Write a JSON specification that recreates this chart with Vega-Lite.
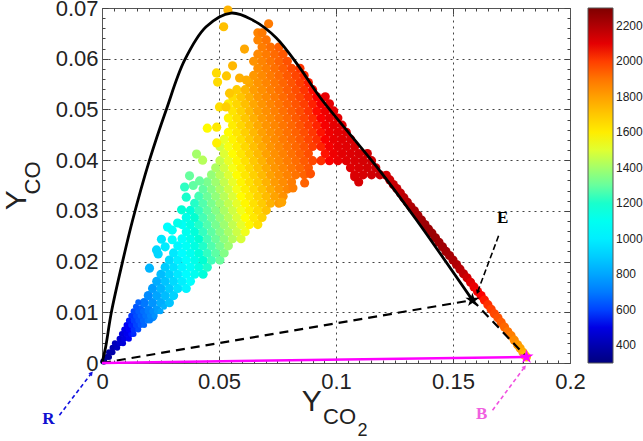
{"$schema":"https://vega.github.io/schema/vega-lite/v6.json","width":468,"height":355,"autosize":{"type":"none"},"padding":{"left":102,"top":8,"right":73,"bottom":78},"background":"white","resolve":{"axis":{"x":"independent","y":"independent"}},
"config":{"view":{"stroke":null},"axis":{"labelFont":"Liberation Sans","labelColor":"#222","tickColor":"#444","domainColor":"#555","title":null,"labelFlush":false,"labelOverlap":false}},
"layer":[
{"data":{"values":[
{"x":0.0144,"y":0.0091,"t":612},{"x":0.018,"y":0.0091,"t":672},{"x":0.0216,"y":0.0091,"t":733},
{"x":0.0162,"y":0.0105,"t":653},{"x":0.0198,"y":0.0105,"t":714},{"x":0.0234,"y":0.0105,"t":774},
{"x":0.018,"y":0.0119,"t":694},{"x":0.0216,"y":0.0119,"t":755},{"x":0.0252,"y":0.0119,"t":815},{"x":0.0288,"y":0.0119,"t":876},
{"x":0.0198,"y":0.0133,"t":736},{"x":0.0234,"y":0.0133,"t":796},{"x":0.027,"y":0.0133,"t":857},{"x":0.0306,"y":0.0133,"t":917},
{"x":0.0216,"y":0.0147,"t":777},{"x":0.0252,"y":0.0147,"t":837},{"x":0.0288,"y":0.0147,"t":898},{"x":0.0324,"y":0.0147,"t":958},{"x":0.036,"y":0.0147,"t":1019},
{"x":0.0234,"y":0.0161,"t":817},{"x":0.027,"y":0.0161,"t":878},{"x":0.0306,"y":0.0161,"t":938},{"x":0.0342,"y":0.0161,"t":999},{"x":0.0378,"y":0.0161,"t":1059},
{"x":0.0252,"y":0.0175,"t":858},{"x":0.0288,"y":0.0175,"t":919},{"x":0.0324,"y":0.0175,"t":979},{"x":0.036,"y":0.0175,"t":1040},{"x":0.0396,"y":0.0175,"t":1100},{"x":0.0432,"y":0.0175,"t":1161},
{"x":0.027,"y":0.0189,"t":900},{"x":0.0306,"y":0.0189,"t":960},{"x":0.0342,"y":0.0189,"t":1021},{"x":0.0378,"y":0.0189,"t":1081},{"x":0.0414,"y":0.0189,"t":1142},{"x":0.045,"y":0.0189,"t":1202},
{"x":0.0288,"y":0.0203,"t":941},{"x":0.0324,"y":0.0203,"t":1001},{"x":0.036,"y":0.0203,"t":1062},{"x":0.0396,"y":0.0203,"t":1122},{"x":0.0432,"y":0.0203,"t":1183},{"x":0.0468,"y":0.0203,"t":1243},{"x":0.0504,"y":0.0203,"t":1304},
{"x":0.0306,"y":0.0217,"t":982},{"x":0.0342,"y":0.0217,"t":1043},{"x":0.0378,"y":0.0217,"t":1103},{"x":0.0414,"y":0.0217,"t":1164},{"x":0.045,"y":0.0217,"t":1224},{"x":0.0486,"y":0.0217,"t":1284},{"x":0.0522,"y":0.0217,"t":1345},
{"x":0.0324,"y":0.0231,"t":1023},{"x":0.036,"y":0.0231,"t":1084},{"x":0.0396,"y":0.0231,"t":1144},{"x":0.0432,"y":0.0231,"t":1205},{"x":0.0468,"y":0.0231,"t":1265},{"x":0.0504,"y":0.0231,"t":1326},{"x":0.054,"y":0.0231,"t":1386},
{"x":0.0342,"y":0.0245,"t":1064},{"x":0.0378,"y":0.0245,"t":1124},{"x":0.0414,"y":0.0245,"t":1185},{"x":0.045,"y":0.0245,"t":1245},{"x":0.0486,"y":0.0245,"t":1305},{"x":0.0522,"y":0.0245,"t":1366},{"x":0.0558,"y":0.0245,"t":1426},{"x":0.0594,"y":0.0245,"t":1487},
{"x":0.036,"y":0.0259,"t":1105},{"x":0.0396,"y":0.0259,"t":1165},{"x":0.0432,"y":0.0259,"t":1226},{"x":0.0468,"y":0.0259,"t":1286},{"x":0.0504,"y":0.0259,"t":1347},{"x":0.054,"y":0.0259,"t":1407},{"x":0.0576,"y":0.0259,"t":1468},{"x":0.0612,"y":0.0259,"t":1528},
{"x":0.0342,"y":0.0273,"t":1086},{"x":0.0378,"y":0.0273,"t":1146},{"x":0.0414,"y":0.0273,"t":1207},{"x":0.045,"y":0.0273,"t":1267},{"x":0.0486,"y":0.0273,"t":1327},{"x":0.0522,"y":0.0273,"t":1388},{"x":0.0558,"y":0.0273,"t":1448},{"x":0.0594,"y":0.0273,"t":1509},{"x":0.063,"y":0.0273,"t":1569},{"x":0.0666,"y":0.0273,"t":1630},
{"x":0.036,"y":0.0287,"t":1127},{"x":0.0396,"y":0.0287,"t":1187},{"x":0.0432,"y":0.0287,"t":1248},{"x":0.0468,"y":0.0287,"t":1308},{"x":0.0504,"y":0.0287,"t":1369},{"x":0.054,"y":0.0287,"t":1429},{"x":0.0576,"y":0.0287,"t":1490},{"x":0.0612,"y":0.0287,"t":1550},{"x":0.0648,"y":0.0287,"t":1611},{"x":0.0684,"y":0.0287,"t":1671},
{"x":0.0378,"y":0.0301,"t":1168},{"x":0.0414,"y":0.0301,"t":1229},{"x":0.045,"y":0.0301,"t":1289},{"x":0.0486,"y":0.0301,"t":1349},{"x":0.0522,"y":0.0301,"t":1410},{"x":0.0558,"y":0.0301,"t":1470},{"x":0.0594,"y":0.0301,"t":1531},{"x":0.063,"y":0.0301,"t":1591},{"x":0.0666,"y":0.0301,"t":1652},{"x":0.0702,"y":0.0301,"t":1712},
{"x":0.0396,"y":0.0315,"t":1208},{"x":0.0432,"y":0.0315,"t":1269},{"x":0.0468,"y":0.0315,"t":1329},{"x":0.0504,"y":0.0315,"t":1390},{"x":0.054,"y":0.0315,"t":1450},{"x":0.0576,"y":0.0315,"t":1511},{"x":0.0612,"y":0.0315,"t":1571},{"x":0.0648,"y":0.0315,"t":1632},{"x":0.0684,"y":0.0315,"t":1692},{"x":0.072,"y":0.0315,"t":1753},{"x":0.0756,"y":0.0315,"t":1813},
{"x":0.0414,"y":0.0329,"t":1250},{"x":0.045,"y":0.0329,"t":1310},{"x":0.0486,"y":0.0329,"t":1370},{"x":0.0522,"y":0.0329,"t":1431},{"x":0.0558,"y":0.0329,"t":1491},{"x":0.0594,"y":0.0329,"t":1552},{"x":0.063,"y":0.0329,"t":1612},{"x":0.0666,"y":0.0329,"t":1673},{"x":0.0702,"y":0.0329,"t":1733},{"x":0.0738,"y":0.0329,"t":1794},{"x":0.0774,"y":0.0329,"t":1836},
{"x":0.0432,"y":0.0343,"t":1291},{"x":0.0468,"y":0.0343,"t":1351},{"x":0.0504,"y":0.0343,"t":1412},{"x":0.054,"y":0.0343,"t":1472},{"x":0.0576,"y":0.0343,"t":1533},{"x":0.0612,"y":0.0343,"t":1593},{"x":0.0648,"y":0.0343,"t":1654},{"x":0.0684,"y":0.0343,"t":1714},{"x":0.072,"y":0.0343,"t":1775},{"x":0.0756,"y":0.0343,"t":1825},{"x":0.0792,"y":0.0343,"t":1860},
{"x":0.045,"y":0.0357,"t":1332},{"x":0.0486,"y":0.0357,"t":1392},{"x":0.0522,"y":0.0357,"t":1453},{"x":0.0558,"y":0.0357,"t":1513},{"x":0.0594,"y":0.0357,"t":1574},{"x":0.063,"y":0.0357,"t":1634},{"x":0.0666,"y":0.0357,"t":1695},{"x":0.0702,"y":0.0357,"t":1755},{"x":0.0738,"y":0.0357,"t":1813},{"x":0.0774,"y":0.0357,"t":1848},{"x":0.081,"y":0.0357,"t":1883},
{"x":0.0468,"y":0.0371,"t":1373},{"x":0.0504,"y":0.0371,"t":1434},{"x":0.054,"y":0.0371,"t":1494},{"x":0.0576,"y":0.0371,"t":1555},{"x":0.0612,"y":0.0371,"t":1615},{"x":0.0648,"y":0.0371,"t":1676},{"x":0.0684,"y":0.0371,"t":1736},{"x":0.072,"y":0.0371,"t":1797},{"x":0.0756,"y":0.0371,"t":1838},{"x":0.0792,"y":0.0371,"t":1872},{"x":0.0828,"y":0.0371,"t":1905},{"x":0.0864,"y":0.0371,"t":1940},{"x":0.108,"y":0.0371,"t":2112},{"x":0.1116,"y":0.0371,"t":2124},{"x":0.1152,"y":0.0371,"t":2137},{"x":0.1188,"y":0.0371,"t":2150},
{"x":0.0486,"y":0.0385,"t":1415},{"x":0.0522,"y":0.0385,"t":1475},{"x":0.0558,"y":0.0385,"t":1535},{"x":0.0594,"y":0.0385,"t":1596},{"x":0.063,"y":0.0385,"t":1656},{"x":0.0666,"y":0.0385,"t":1717},{"x":0.0702,"y":0.0385,"t":1777},{"x":0.0738,"y":0.0385,"t":1826},{"x":0.0774,"y":0.0385,"t":1860},{"x":0.081,"y":0.0385,"t":1895},{"x":0.0846,"y":0.0385,"t":1928},{"x":0.0882,"y":0.0385,"t":1962},{"x":0.1062,"y":0.0385,"t":2108},{"x":0.1098,"y":0.0385,"t":2120},{"x":0.1134,"y":0.0385,"t":2133},{"x":0.117,"y":0.0385,"t":2146},
{"x":0.0504,"y":0.0399,"t":1455},{"x":0.054,"y":0.0399,"t":1515},{"x":0.0576,"y":0.0399,"t":1576},{"x":0.0612,"y":0.0399,"t":1636},{"x":0.0648,"y":0.0399,"t":1697},{"x":0.0684,"y":0.0399,"t":1757},{"x":0.072,"y":0.0399,"t":1816},{"x":0.0756,"y":0.0399,"t":1850},{"x":0.0792,"y":0.0399,"t":1884},{"x":0.0828,"y":0.0399,"t":1918},{"x":0.0864,"y":0.0399,"t":1952},{"x":0.09,"y":0.0399,"t":1986},{"x":0.0936,"y":0.0399,"t":2020},{"x":0.0972,"y":0.0399,"t":2055},{"x":0.1008,"y":0.0399,"t":2087},{"x":0.1044,"y":0.0399,"t":2104},{"x":0.108,"y":0.0399,"t":2116},{"x":0.1116,"y":0.0399,"t":2129},{"x":0.1152,"y":0.0399,"t":2142},
{"x":0.0522,"y":0.0413,"t":1496},{"x":0.0558,"y":0.0413,"t":1556},{"x":0.0594,"y":0.0413,"t":1617},{"x":0.063,"y":0.0413,"t":1677},{"x":0.0666,"y":0.0413,"t":1738},{"x":0.0702,"y":0.0413,"t":1798},{"x":0.0738,"y":0.0413,"t":1839},{"x":0.0774,"y":0.0413,"t":1874},{"x":0.081,"y":0.0413,"t":1908},{"x":0.0846,"y":0.0413,"t":1941},{"x":0.0882,"y":0.0413,"t":1976},{"x":0.0954,"y":0.0413,"t":2043},{"x":0.099,"y":0.0413,"t":2078},{"x":0.1026,"y":0.0413,"t":2100},{"x":0.1062,"y":0.0413,"t":2112},{"x":0.1098,"y":0.0413,"t":2125},{"x":0.1134,"y":0.0413,"t":2138},
{"x":0.0504,"y":0.0427,"t":1477},{"x":0.054,"y":0.0427,"t":1537},{"x":0.0576,"y":0.0427,"t":1598},{"x":0.0612,"y":0.0427,"t":1658},{"x":0.0648,"y":0.0427,"t":1719},{"x":0.0684,"y":0.0427,"t":1779},{"x":0.072,"y":0.0427,"t":1827},{"x":0.0756,"y":0.0427,"t":1862},{"x":0.0792,"y":0.0427,"t":1895},{"x":0.0828,"y":0.0427,"t":1929},{"x":0.0864,"y":0.0427,"t":1964},{"x":0.09,"y":0.0427,"t":2000},{"x":0.0936,"y":0.0427,"t":2032},{"x":0.0972,"y":0.0427,"t":2067},{"x":0.1008,"y":0.0427,"t":2096},{"x":0.1044,"y":0.0427,"t":2108},{"x":0.108,"y":0.0427,"t":2120},
{"x":0.0522,"y":0.0441,"t":1518},{"x":0.0558,"y":0.0441,"t":1578},{"x":0.0594,"y":0.0441,"t":1639},{"x":0.063,"y":0.0441,"t":1699},{"x":0.0666,"y":0.0441,"t":1760},{"x":0.0702,"y":0.0441,"t":1816},{"x":0.0738,"y":0.0441,"t":1851},{"x":0.0774,"y":0.0441,"t":1886},{"x":0.081,"y":0.0441,"t":1920},{"x":0.0846,"y":0.0441,"t":1953},{"x":0.0882,"y":0.0441,"t":1988},{"x":0.0918,"y":0.0441,"t":2020},{"x":0.0954,"y":0.0441,"t":2055},{"x":0.099,"y":0.0441,"t":2088},{"x":0.1026,"y":0.0441,"t":2104},{"x":0.1062,"y":0.0441,"t":2117},
{"x":0.054,"y":0.0455,"t":1559},{"x":0.0576,"y":0.0455,"t":1620},{"x":0.0612,"y":0.0455,"t":1680},{"x":0.0648,"y":0.0455,"t":1741},{"x":0.0684,"y":0.0455,"t":1801},{"x":0.072,"y":0.0455,"t":1839},{"x":0.0756,"y":0.0455,"t":1874},{"x":0.0792,"y":0.0455,"t":1908},{"x":0.0828,"y":0.0455,"t":1941},{"x":0.0864,"y":0.0455,"t":1976},{"x":0.09,"y":0.0455,"t":2010},{"x":0.0936,"y":0.0455,"t":2043},{"x":0.0972,"y":0.0455,"t":2078},{"x":0.1008,"y":0.0455,"t":2100},{"x":0.1044,"y":0.0455,"t":2112},
{"x":0.0558,"y":0.0469,"t":1600},{"x":0.0594,"y":0.0469,"t":1660},{"x":0.063,"y":0.0469,"t":1720},{"x":0.0666,"y":0.0469,"t":1781},{"x":0.0702,"y":0.0469,"t":1829},{"x":0.0738,"y":0.0469,"t":1863},{"x":0.0774,"y":0.0469,"t":1898},{"x":0.081,"y":0.0469,"t":1930},{"x":0.0846,"y":0.0469,"t":1965},{"x":0.0882,"y":0.0469,"t":2000},{"x":0.0918,"y":0.0469,"t":2032},{"x":0.0954,"y":0.0469,"t":2067},{"x":0.099,"y":0.0469,"t":2096},{"x":0.1026,"y":0.0469,"t":2108},
{"x":0.054,"y":0.0483,"t":1580},{"x":0.0576,"y":0.0483,"t":1641},{"x":0.0612,"y":0.0483,"t":1701},{"x":0.0648,"y":0.0483,"t":1762},{"x":0.0684,"y":0.0483,"t":1818},{"x":0.072,"y":0.0483,"t":1851},{"x":0.0756,"y":0.0483,"t":1886},{"x":0.0792,"y":0.0483,"t":1920},{"x":0.0828,"y":0.0483,"t":1954},{"x":0.0864,"y":0.0483,"t":1988},{"x":0.09,"y":0.0483,"t":2022},{"x":0.0936,"y":0.0483,"t":2056},{"x":0.0972,"y":0.0483,"t":2090},{"x":0.1008,"y":0.0483,"t":2104},
{"x":0.0558,"y":0.0497,"t":1621},{"x":0.0594,"y":0.0497,"t":1682},{"x":0.063,"y":0.0497,"t":1742},{"x":0.0666,"y":0.0497,"t":1803},{"x":0.0702,"y":0.0497,"t":1842},{"x":0.0738,"y":0.0497,"t":1875},{"x":0.0774,"y":0.0497,"t":1910},{"x":0.081,"y":0.0497,"t":1944},{"x":0.0846,"y":0.0497,"t":1977},{"x":0.0882,"y":0.0497,"t":2012},{"x":0.0918,"y":0.0497,"t":2046},{"x":0.0954,"y":0.0497,"t":2079},{"x":0.099,"y":0.0497,"t":2102},
{"x":0.054,"y":0.0511,"t":1602},{"x":0.0576,"y":0.0511,"t":1663},{"x":0.0612,"y":0.0511,"t":1723},{"x":0.0648,"y":0.0511,"t":1784},{"x":0.0684,"y":0.0511,"t":1830},{"x":0.072,"y":0.0511,"t":1864},{"x":0.0756,"y":0.0511,"t":1898},{"x":0.0792,"y":0.0511,"t":1932},{"x":0.0828,"y":0.0511,"t":1966},{"x":0.0864,"y":0.0511,"t":2000},{"x":0.09,"y":0.0511,"t":2034},{"x":0.0936,"y":0.0511,"t":2068},{"x":0.0972,"y":0.0511,"t":2096},
{"x":0.0558,"y":0.0525,"t":1643},{"x":0.0594,"y":0.0525,"t":1704},{"x":0.063,"y":0.0525,"t":1764},{"x":0.0666,"y":0.0525,"t":1820},{"x":0.0702,"y":0.0525,"t":1854},{"x":0.0738,"y":0.0525,"t":1887},{"x":0.0774,"y":0.0525,"t":1922},{"x":0.081,"y":0.0525,"t":1956},{"x":0.0846,"y":0.0525,"t":1989},{"x":0.0882,"y":0.0525,"t":2024},{"x":0.0918,"y":0.0525,"t":2058},{"x":0.0954,"y":0.0525,"t":2091},
{"x":0.0576,"y":0.0539,"t":1685},{"x":0.0612,"y":0.0539,"t":1745},{"x":0.0648,"y":0.0539,"t":1806},{"x":0.0684,"y":0.0539,"t":1842},{"x":0.072,"y":0.0539,"t":1876},{"x":0.0756,"y":0.0539,"t":1910},{"x":0.0792,"y":0.0539,"t":1944},{"x":0.0828,"y":0.0539,"t":1978},{"x":0.0864,"y":0.0539,"t":2013},{"x":0.09,"y":0.0539,"t":2046},
{"x":0.063,"y":0.0553,"t":1785},{"x":0.0666,"y":0.0553,"t":1832},{"x":0.0702,"y":0.0553,"t":1864},{"x":0.0738,"y":0.0553,"t":1899},{"x":0.0774,"y":0.0553,"t":1934},{"x":0.081,"y":0.0553,"t":1966},{"x":0.0846,"y":0.0553,"t":2001},{"x":0.0882,"y":0.0553,"t":2036},
{"x":0.0648,"y":0.0567,"t":1821},{"x":0.0684,"y":0.0567,"t":1854},{"x":0.072,"y":0.0567,"t":1888},{"x":0.0756,"y":0.0567,"t":1922},{"x":0.0792,"y":0.0567,"t":1956},{"x":0.0828,"y":0.0567,"t":1990},{"x":0.0864,"y":0.0567,"t":2025},
{"x":0.0666,"y":0.0581,"t":1844},{"x":0.0702,"y":0.0581,"t":1876},{"x":0.0738,"y":0.0581,"t":1911},{"x":0.0774,"y":0.0581,"t":1946},{"x":0.081,"y":0.0581,"t":1980},{"x":0.0846,"y":0.0581,"t":2013},
{"x":0.0648,"y":0.0595,"t":1833},{"x":0.0684,"y":0.0595,"t":1868},{"x":0.072,"y":0.0595,"t":1900},{"x":0.0756,"y":0.0595,"t":1935},{"x":0.0792,"y":0.0595,"t":1970},
{"x":0.0666,"y":0.0609,"t":1856},{"x":0.0702,"y":0.0609,"t":1888},{"x":0.0738,"y":0.0609,"t":1923},{"x":0.0774,"y":0.0609,"t":1958},
{"x":0.0684,"y":0.0623,"t":1880},{"x":0.072,"y":0.0623,"t":1912},{"x":0.0756,"y":0.0623,"t":1947},
{"x":0.0666,"y":0.0637,"t":1868},{"x":0.0702,"y":0.0637,"t":1902},
{"x":0.0666,"y":0.0651,"t":1869},{"x":0.0684,"y":0.0651,"t":1890},
{"x":0.0538,"y":0.0696,"t":1750},{"x":0.052,"y":0.0663,"t":1720},{"x":0.0712,"y":0.0669,"t":1890},{"x":0.0609,"y":0.0619,"t":1780},{"x":0.0558,"y":0.0586,"t":1740},{"x":0.0489,"y":0.0572,"t":1650},{"x":0.0494,"y":0.0554,"t":1650},{"x":0.0532,"y":0.0566,"t":1700},{"x":0.0588,"y":0.0562,"t":1760},{"x":0.0617,"y":0.0558,"t":1770},{"x":0.0545,"y":0.0532,"t":1700},{"x":0.0502,"y":0.0505,"t":1640},{"x":0.053,"y":0.0505,"t":1680},{"x":0.045,"y":0.0463,"t":1560},{"x":0.049,"y":0.0465,"t":1610},{"x":0.049,"y":0.0434,"t":1590},{"x":0.0404,"y":0.0412,"t":1400},{"x":0.043,"y":0.04,"t":1430},{"x":0.0374,"y":0.0369,"t":1300},{"x":0.0353,"y":0.0347,"t":1220},{"x":0.039,"y":0.035,"t":1290},{"x":0.0417,"y":0.0359,"t":1300},{"x":0.036,"y":0.0327,"t":1200},{"x":0.034,"y":0.0302,"t":1180},
{"x":0.108,"y":0.0367,"t":2120},{"x":0.1097,"y":0.0357,"t":2125},{"x":0.0768,"y":0.0317,"t":1790},{"x":0.0816,"y":0.0345,"t":1880},{"x":0.0866,"y":0.0355,"t":1940},{"x":0.0891,"y":0.0373,"t":1970},
{"x":0.028,"y":0.0268,"t":1050},{"x":0.03,"y":0.0262,"t":1080},{"x":0.0254,"y":0.0244,"t":980},{"x":0.03,"y":0.0243,"t":1060},{"x":0.0233,"y":0.0223,"t":930},{"x":0.024,"y":0.0215,"t":930},{"x":0.027,"y":0.0229,"t":990},{"x":0.0203,"y":0.0187,"t":840},{"x":0.0323,"y":0.0276,"t":1120},
{"x":0.1215,"y":0.037,"t":2130},{"x":0.123,"y":0.0361,"t":2140},{"x":0.1245,"y":0.0352,"t":2150},{"x":0.126,"y":0.0344,"t":2160},{"x":0.1275,"y":0.0335,"t":2170},{"x":0.129,"y":0.0326,"t":2180},{"x":0.1305,"y":0.0317,"t":2190},{"x":0.132,"y":0.0308,"t":2200},{"x":0.1335,"y":0.03,"t":2210},{"x":0.135,"y":0.0291,"t":2220},{"x":0.1365,"y":0.0282,"t":2230},{"x":0.138,"y":0.0273,"t":2235},{"x":0.1395,"y":0.0264,"t":2240},{"x":0.141,"y":0.0256,"t":2240},{"x":0.1425,"y":0.0247,"t":2240},{"x":0.144,"y":0.0238,"t":2235},{"x":0.1455,"y":0.0229,"t":2230},{"x":0.147,"y":0.022,"t":2225},{"x":0.1485,"y":0.0212,"t":2220},{"x":0.15,"y":0.0203,"t":2210},{"x":0.1515,"y":0.0194,"t":2200},{"x":0.153,"y":0.0185,"t":2185},{"x":0.1545,"y":0.0176,"t":2170},{"x":0.156,"y":0.0168,"t":2140},{"x":0.1575,"y":0.0159,"t":2110},{"x":0.159,"y":0.015,"t":2090},{"x":0.1605,"y":0.0141,"t":2070},{"x":0.162,"y":0.0133,"t":2055},{"x":0.1634,"y":0.0124,"t":2040},{"x":0.1649,"y":0.0115,"t":2020},{"x":0.1663,"y":0.0106,"t":2000},{"x":0.1677,"y":0.0097,"t":1985},{"x":0.1692,"y":0.0089,"t":1970},{"x":0.1706,"y":0.008,"t":1950},{"x":0.172,"y":0.0071,"t":1930},{"x":0.1734,"y":0.0062,"t":1905},{"x":0.1748,"y":0.0054,"t":1880},{"x":0.1762,"y":0.0045,"t":1850},{"x":0.1776,"y":0.0036,"t":1820},{"x":0.1787,"y":0.0029,"t":1795},{"x":0.1799,"y":0.0021,"t":1770},{"x":0.1806,"y":0.0016,"t":1735},{"x":0.1814,"y":0.0012,"t":1700}
]},"mark":{"type":"circle","size":84,"opacity":1},"encoding":{
"x":{"field":"x","type":"quantitative","scale":{"domain":[0,0.2],"nice":false},"axis":{"orient":"bottom","values":[0,0.05,0.1,0.15,0.2],"format":".2~f","labelFontSize":22,"labelPadding":14,"tickSize":-6,"grid":true,"gridColor":"#444","gridDash":[2,4],"gridWidth":1,"domain":true}},
"y":{"field":"y","type":"quantitative","scale":{"domain":[0,0.07],"nice":false},"axis":{"orient":"left","values":[0,0.01,0.02,0.03,0.04,0.05,0.06,0.07],"format":".2~f","labelFontSize":22,"labelPadding":10,"tickSize":-6,"grid":true,"gridColor":"#444","gridDash":[2,4],"gridWidth":1,"domain":true}},
"color":{"field":"t","type":"quantitative","scale":{"domain":[300,550,1050,1550,2050,2300],"range":["#00007f","#0000ff","#00ffff","#ffff00","#ff0000","#7f0000"]},"legend":{"orient":"none","legendX":486,"legendY":0,"title":null,"direction":"vertical","gradientLength":355,"gradientThickness":25,"values":[400,600,800,1000,1200,1400,1600,1800,2000,2200],"format":"d","labelFont":"Liberation Sans","labelFontSize":12,"labelColor":"#222","labelOffset":3,"gradientStrokeColor":"#555","gradientStrokeWidth":1}}}},
{"data":{"values":[{"x":0.0005,"y":0.0003,"t":310},{"x":0.001,"y":0.0003,"t":320},{"x":0.002,"y":0.0012,"t":343},{"x":0.003,"y":0.0012,"t":360},{"x":0.003,"y":0.0021,"t":366},{"x":0.0045,"y":0.0021,"t":392},{"x":0.0045,"y":0.003,"t":399},{"x":0.0065,"y":0.003,"t":432},{"x":0.0055,"y":0.0039,"t":422},{"x":0.0075,"y":0.0039,"t":456},{"x":0.009,"y":0.0039,"t":481},{"x":0.0075,"y":0.0048,"t":463},{"x":0.0095,"y":0.0048,"t":497},{"x":0.0115,"y":0.0048,"t":530},{"x":0.0085,"y":0.0057,"t":487},{"x":0.0105,"y":0.0057,"t":520},{"x":0.0125,"y":0.0057,"t":554},{"x":0.0135,"y":0.0057,"t":571},{"x":0.0095,"y":0.0066,"t":511},{"x":0.0115,"y":0.0066,"t":544},{"x":0.0135,"y":0.0066,"t":578},{"x":0.0155,"y":0.0066,"t":611},{"x":0.0105,"y":0.0075,"t":534},{"x":0.0125,"y":0.0075,"t":568},{"x":0.0145,"y":0.0075,"t":602},{"x":0.0165,"y":0.0075,"t":635},{"x":0.018,"y":0.0075,"t":660},{"x":0.0115,"y":0.0084,"t":558},{"x":0.0135,"y":0.0084,"t":592},{"x":0.0155,"y":0.0084,"t":625},{"x":0.0175,"y":0.0084,"t":659},{"x":0.0195,"y":0.0084,"t":693},{"x":0.0205,"y":0.0084,"t":709},{"x":0.0125,"y":0.0093,"t":582},{"x":0.0145,"y":0.0093,"t":616},{"x":0.0165,"y":0.0093,"t":649},{"x":0.0185,"y":0.0093,"t":683},{"x":0.0205,"y":0.0093,"t":716},{"x":0.0225,"y":0.0093,"t":750},{"x":0.0135,"y":0.0102,"t":606},{"x":0.0155,"y":0.0102,"t":639},{"x":0.0175,"y":0.0102,"t":673},{"x":0.0195,"y":0.0102,"t":707},{"x":0.0215,"y":0.0102,"t":740},{"x":0.0235,"y":0.0102,"t":774},{"x":0.025,"y":0.0102,"t":799},{"x":0.0145,"y":0.0111,"t":630},{"x":0.0265,"y":0.0111,"t":831},{"x":0.0155,"y":0.012,"t":653},{"x":0.0285,"y":0.012,"t":872}]},
"mark":{"type":"circle","size":36,"opacity":1},"encoding":{
"x":{"field":"x","type":"quantitative","scale":{"domain":[0,0.2],"nice":false},"axis":{"orient":"bottom","values":[0.005,0.01,0.015,0.02,0.025,0.03,0.035,0.04,0.045,0.055,0.06,0.065,0.07,0.075,0.08,0.085,0.09,0.095,0.105,0.11,0.115,0.12,0.125,0.13,0.135,0.14,0.145,0.155,0.16,0.165,0.17,0.175,0.18,0.185,0.19,0.195],"labels":false,"tickSize":-3,"grid":false,"domain":false}},
"y":{"field":"y","type":"quantitative","scale":{"domain":[0,0.07],"nice":false},"axis":{"orient":"left","values":[0.002,0.004,0.006,0.008,0.012,0.014,0.016,0.018,0.022,0.024,0.026,0.028,0.032,0.034,0.036,0.038,0.042,0.044,0.046,0.048,0.052,0.054,0.056,0.058,0.062,0.064,0.066,0.068],"labels":false,"tickSize":-3,"grid":false,"domain":false}},
"color":{"field":"t","type":"quantitative","scale":{"domain":[300,550,1050,1550,2050,2300],"range":["#00007f","#0000ff","#00ffff","#ffff00","#ff0000","#7f0000"]},"legend":null}}},
{"data":{"values":[{"x":0,"y":0},{"x":0.0015,"y":0.003},{"x":0.004,"y":0.01},{"x":0.0088,"y":0.02},{"x":0.0131,"y":0.0282},{"x":0.0203,"y":0.04},{"x":0.0275,"y":0.05},{"x":0.0353,"y":0.0597},{"x":0.0445,"y":0.0663},{"x":0.0552,"y":0.069},{"x":0.0645,"y":0.0676},{"x":0.0745,"y":0.0641},{"x":0.0844,"y":0.0583},{"x":0.093,"y":0.0525},{"x":0.1186,"y":0.038},{"x":0.1344,"y":0.0282},{"x":0.1583,"y":0.0124}]},
"mark":{"type":"line","color":"black","strokeWidth":2.8,"interpolate":"catmull-rom"},"encoding":{
"x":{"field":"x","type":"quantitative","scale":{"domain":[0,0.2],"nice":false},"axis":{"orient":"top","values":[0,0.05,0.1,0.15,0.2],"labels":false,"tickSize":-6,"grid":false,"domain":true}},
"y":{"field":"y","type":"quantitative","scale":{"domain":[0,0.07],"nice":false},"axis":{"orient":"right","values":[0,0.01,0.02,0.03,0.04,0.05,0.06,0.07],"labels":false,"tickSize":-6,"grid":false,"domain":true}}}},
{"data":{"values":[{"x":0,"y":0},{"x":0.1583,"y":0.0124},{"x":0.1814,"y":0.0012}]},
"mark":{"type":"line","color":"black","strokeWidth":2.2,"strokeDash":[9,6]},"encoding":{
"x":{"field":"x","type":"quantitative","scale":{"domain":[0,0.2],"nice":false},"axis":{"orient":"top","values":[0.005,0.01,0.015,0.02,0.025,0.03,0.035,0.04,0.045,0.055,0.06,0.065,0.07,0.075,0.08,0.085,0.09,0.095,0.105,0.11,0.115,0.12,0.125,0.13,0.135,0.14,0.145,0.155,0.16,0.165,0.17,0.175,0.18,0.185,0.19,0.195],"labels":false,"tickSize":-3,"grid":false,"domain":false}},
"y":{"field":"y","type":"quantitative","scale":{"domain":[0,0.07],"nice":false},"axis":{"orient":"right","values":[0.002,0.004,0.006,0.008,0.012,0.014,0.016,0.018,0.022,0.024,0.026,0.028,0.032,0.034,0.036,0.038,0.042,0.044,0.046,0.048,0.052,0.054,0.056,0.058,0.062,0.064,0.066,0.068],"labels":false,"tickSize":-3,"grid":false,"domain":false}}}},
{"data":{"values":[{"x":0,"y":0},{"x":0.1814,"y":0.0012}]},"mark":{"type":"line","color":"#ff00ff","strokeWidth":2.5},"encoding":{"x":{"field":"x","type":"quantitative","scale":{"domain":[0,0.2],"nice":false},"axis":null},"y":{"field":"y","type":"quantitative","scale":{"domain":[0,0.07],"nice":false},"axis":null}}},
{"data":{"values":[{"x":0.1583,"y":0.0124}]},"mark":{"type":"point","shape":"M0,-1 L0.225,-0.309 L0.951,-0.309 L0.363,0.118 L0.588,0.809 L0,0.382 L-0.588,0.809 L-0.363,0.118 L-0.951,-0.309 L-0.225,-0.309 Z","filled":true,"opacity":1,"color":"black","size":220},"encoding":{"x":{"field":"x","type":"quantitative","scale":{"domain":[0,0.2],"nice":false},"axis":null},"y":{"field":"y","type":"quantitative","scale":{"domain":[0,0.07],"nice":false},"axis":null}}},
{"data":{"values":[{"x":0.1814,"y":0.0012}]},"mark":{"type":"point","shape":"M0,-1 L0.225,-0.309 L0.951,-0.309 L0.363,0.118 L0.588,0.809 L0,0.382 L-0.588,0.809 L-0.363,0.118 L-0.951,-0.309 L-0.225,-0.309 Z","filled":true,"opacity":1,"color":"#ff00ff","size":220},"encoding":{"x":{"field":"x","type":"quantitative","scale":{"domain":[0,0.2],"nice":false},"axis":null},"y":{"field":"y","type":"quantitative","scale":{"domain":[0,0.07],"nice":false},"axis":null}}},
{"data":{"values":[{"x":-0.0182,"y":-0.0103},{"x":-0.0045,"y":-0.002}]},"mark":{"type":"line","color":"#1010e0","strokeWidth":1.6,"strokeDash":[4,3],"clip":false},"encoding":{"x":{"field":"x","type":"quantitative","scale":{"domain":[0,0.2],"nice":false},"axis":null},"y":{"field":"y","type":"quantitative","scale":{"domain":[0,0.07],"nice":false},"axis":null}}},
{"data":{"values":[{"x":0.1669,"y":-0.0093},{"x":0.1806,"y":-0.0008}]},"mark":{"type":"line","color":"#f050e0","strokeWidth":1.6,"strokeDash":[4,3],"clip":false},"encoding":{"x":{"field":"x","type":"quantitative","scale":{"domain":[0,0.2],"nice":false},"axis":null},"y":{"field":"y","type":"quantitative","scale":{"domain":[0,0.07],"nice":false},"axis":null}}},
{"data":{"values":[{"x":0.1699,"y":0.0256},{"x":0.1605,"y":0.014}]},"mark":{"type":"line","color":"black","strokeWidth":1.6,"strokeDash":[6,3]},"encoding":{"x":{"field":"x","type":"quantitative","scale":{"domain":[0,0.2],"nice":false},"axis":null},"y":{"field":"y","type":"quantitative","scale":{"domain":[0,0.07],"nice":false},"axis":null}}},
{"data":{"values":[{"x":-0.0045,"y":-0.002}]},"mark":{"type":"point","shape":"triangle-up","filled":true,"opacity":1,"color":"#1010e0","size":22,"angle":40},"encoding":{"x":{"field":"x","type":"quantitative","scale":{"domain":[0,0.2],"nice":false},"axis":null},"y":{"field":"y","type":"quantitative","scale":{"domain":[0,0.07],"nice":false},"axis":null}}},
{"data":{"values":[{"x":0.1806,"y":-0.0008}]},"mark":{"type":"point","shape":"triangle-up","filled":true,"opacity":1,"color":"#f050e0","size":22,"angle":40},"encoding":{"x":{"field":"x","type":"quantitative","scale":{"domain":[0,0.2],"nice":false},"axis":null},"y":{"field":"y","type":"quantitative","scale":{"domain":[0,0.07],"nice":false},"axis":null}}},
{"data":{"values":[{"x":0.1605,"y":0.014}]},"mark":{"type":"point","shape":"triangle-up","filled":true,"opacity":1,"color":"black","size":22,"angle":200},"encoding":{"x":{"field":"x","type":"quantitative","scale":{"domain":[0,0.2],"nice":false},"axis":null},"y":{"field":"y","type":"quantitative","scale":{"domain":[0,0.07],"nice":false},"axis":null}}},
{"data":{"values":[{"x":-0.0365,"y":0.0321,"label":"Y"}]},"mark":{"type":"text","font":"Liberation Sans","fontSize":30,"angle":270,"color":"#222","align":"center","baseline":"middle"},"encoding":{"x":{"field":"x","type":"quantitative","scale":{"domain":[0,0.2],"nice":false},"axis":null},"y":{"field":"y","type":"quantitative","scale":{"domain":[0,0.07],"nice":false},"axis":null},"text":{"field":"label"}}},
{"data":{"values":[{"x":-0.0297,"y":0.0365,"label":"CO"}]},"mark":{"type":"text","font":"Liberation Sans","fontSize":22,"angle":270,"color":"#222","align":"center","baseline":"middle"},"encoding":{"x":{"field":"x","type":"quantitative","scale":{"domain":[0,0.2],"nice":false},"axis":null},"y":{"field":"y","type":"quantitative","scale":{"domain":[0,0.07],"nice":false},"axis":null},"text":{"field":"label"}}},
{"data":{"values":[{"x":0.0896,"y":-0.0077,"label":"Y"}]},"mark":{"type":"text","font":"Liberation Sans","fontSize":30,"color":"#222","align":"center","baseline":"middle"},"encoding":{"x":{"field":"x","type":"quantitative","scale":{"domain":[0,0.2],"nice":false},"axis":null},"y":{"field":"y","type":"quantitative","scale":{"domain":[0,0.07],"nice":false},"axis":null},"text":{"field":"label"}}},
{"data":{"values":[{"x":0.1015,"y":-0.0106,"label":"CO"}]},"mark":{"type":"text","font":"Liberation Sans","fontSize":22,"color":"#222","align":"center","baseline":"middle"},"encoding":{"x":{"field":"x","type":"quantitative","scale":{"domain":[0,0.2],"nice":false},"axis":null},"y":{"field":"y","type":"quantitative","scale":{"domain":[0,0.07],"nice":false},"axis":null},"text":{"field":"label"}}},
{"data":{"values":[{"x":0.1113,"y":-0.0134,"label":"2"}]},"mark":{"type":"text","font":"Liberation Sans","fontSize":18,"color":"#222","align":"center","baseline":"middle"},"encoding":{"x":{"field":"x","type":"quantitative","scale":{"domain":[0,0.2],"nice":false},"axis":null},"y":{"field":"y","type":"quantitative","scale":{"domain":[0,0.07],"nice":false},"axis":null},"text":{"field":"label"}}},
{"data":{"values":[{"x":-0.0229,"y":-0.011,"label":"R"}]},"mark":{"type":"text","font":"Liberation Serif","fontWeight":"bold","fontSize":17,"color":"#1010d0","align":"center","baseline":"middle"},"encoding":{"x":{"field":"x","type":"quantitative","scale":{"domain":[0,0.2],"nice":false},"axis":null},"y":{"field":"y","type":"quantitative","scale":{"domain":[0,0.07],"nice":false},"axis":null},"text":{"field":"label"}}},
{"data":{"values":[{"x":0.1622,"y":-0.01,"label":"B"}]},"mark":{"type":"text","font":"Liberation Serif","fontWeight":"bold","fontSize":17,"color":"#f060e0","align":"center","baseline":"middle"},"encoding":{"x":{"field":"x","type":"quantitative","scale":{"domain":[0,0.2],"nice":false},"axis":null},"y":{"field":"y","type":"quantitative","scale":{"domain":[0,0.07],"nice":false},"axis":null},"text":{"field":"label"}}},
{"data":{"values":[{"x":0.1712,"y":0.0286,"label":"E"}]},"mark":{"type":"text","font":"Liberation Serif","fontWeight":"bold","fontSize":17,"color":"black","align":"center","baseline":"middle"},"encoding":{"x":{"field":"x","type":"quantitative","scale":{"domain":[0,0.2],"nice":false},"axis":null},"y":{"field":"y","type":"quantitative","scale":{"domain":[0,0.07],"nice":false},"axis":null},"text":{"field":"label"}}}
]}
